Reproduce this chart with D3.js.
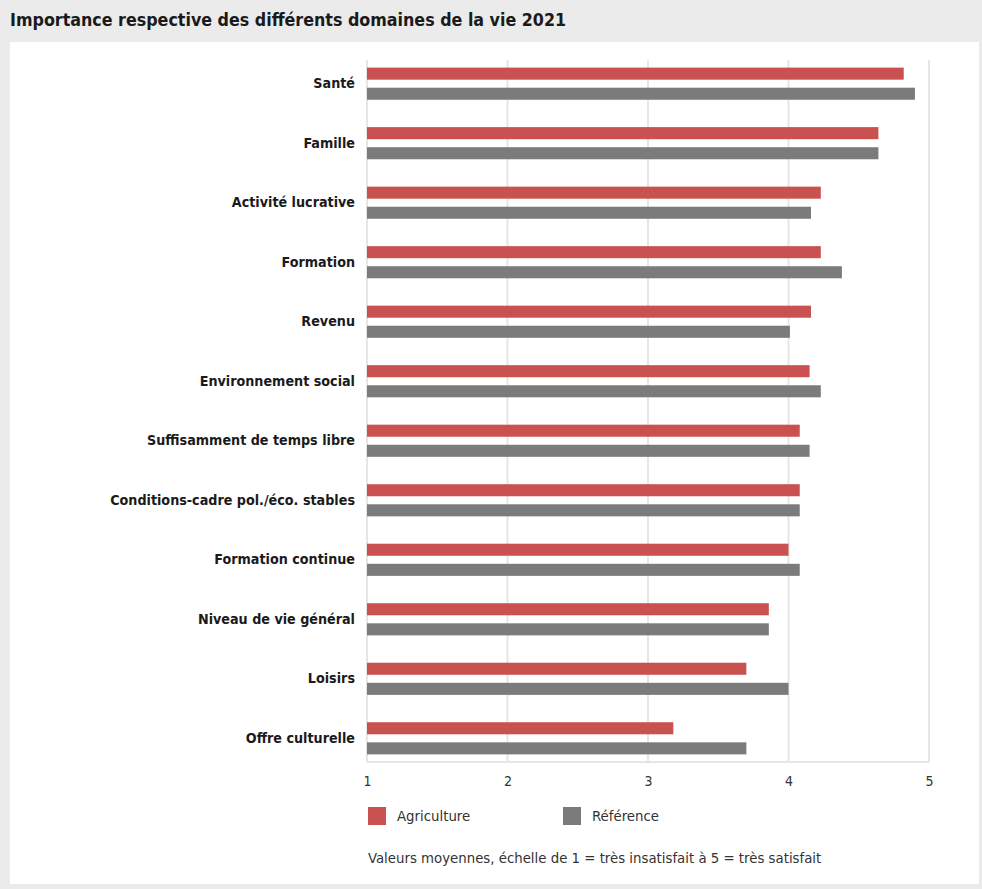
<!DOCTYPE html>
<html>
<head>
<meta charset="utf-8">
<script src="https://cdn.jsdelivr.net/npm/d3@7"></script>
<style>
html,body{margin:0;padding:0;background:#ebebeb;}
svg{display:block;}
</style>
</head>
<body>
<svg id="chart" width="982" height="889"></svg>
<script>
const title = "Importance respective des différents domaines de la vie 2021";
const categories = ["Santé","Famille","Activité lucrative","Formation","Revenu ","Environnement social","Suffisamment de temps libre","Conditions-cadre pol./éco. stables","Formation continue","Niveau de vie général","Loisirs","Offre culturelle"];
const seriesNames = ["Agriculture","Référence"];
const agriculture = [4.82,4.64,4.23,4.23,4.16,4.15,4.08,4.08,4.00,3.86,3.70,3.18];
const reference   = [4.90,4.64,4.16,4.38,4.01,4.23,4.15,4.08,4.08,3.86,4.00,3.70];
const xTicks = [1,2,3,4,5];
const colors = ["#c95150","#7b7b7b"];
const note = "Valeurs moyennes, échelle de 1 = très insatisfait à 5 = très satisfait";

(function(){
const svg = d3.select("#chart");
const font = "'DejaVu Sans Condensed','Liberation Sans Narrow',sans-serif";

svg.append("rect").attr("x",0).attr("y",0).attr("width",982).attr("height",889).attr("fill","#ebebeb");
svg.append("rect").attr("x",10).attr("y",42).attr("width",969).attr("height",842).attr("fill","#ffffff");

svg.append("text").attr("x",10).attr("y",26)
  .attr("font-family",font).attr("font-weight","bold").attr("font-size",17.7)
  .attr("fill","#1a1a1a").text(title);

const pLeft = 367, pRight = 929, pTop = 60, pBottom = 762;
const x = d3.scaleLinear().domain([1,5]).range([pLeft,pRight]);
const y = d3.scaleBand().domain(categories).range([pTop,pBottom]).paddingInner(0.46).paddingOuter(0.128);
const ys = d3.scaleBand().domain(seriesNames).range([0,y.bandwidth()]).paddingInner(0.4);

// grid
svg.append("g").selectAll("line").data(xTicks).join("line")
  .attr("x1",d=>x(d)).attr("x2",d=>x(d)).attr("y1",pTop).attr("y2",pBottom)
  .attr("stroke","#e6e6e6").attr("stroke-width",2);
svg.append("line").attr("x1",pLeft).attr("x2",pRight).attr("y1",pBottom).attr("y2",pBottom)
  .attr("stroke","#e6e6e6").attr("stroke-width",2);

// axis
const xAxis = svg.append("g").attr("transform",`translate(0,${pBottom})`)
  .call(d3.axisBottom(x).tickValues(xTicks).tickFormat(d3.format("d")).tickSize(0).tickPadding(14));
xAxis.select(".domain").remove();
xAxis.selectAll("text").attr("font-family",font).attr("font-size",14).attr("fill","#333");

const yAxis = svg.append("g").attr("transform",`translate(${pLeft-12},0)`)
  .call(d3.axisLeft(y).tickSize(0).tickPadding(0));
yAxis.select(".domain").remove();
yAxis.selectAll("text").attr("font-family",font).attr("font-weight","bold").attr("font-size",14.2).attr("fill","#1a1a1a");

// bars
const data = categories.map((c,i)=>({cat:c, vals:[agriculture[i],reference[i]]}));
const groups = svg.append("g").selectAll("g").data(data).join("g")
  .attr("transform",d=>`translate(0,${y(d.cat)})`);
groups.selectAll("rect").data(d=>d.vals.map((v,j)=>({s:seriesNames[j],v,j}))).join("rect")
  .attr("x",x(1)).attr("y",d=>ys(d.s)).attr("height",ys.bandwidth())
  .attr("width",d=>x(d.v)-x(1)).attr("fill",d=>colors[d.j]);

// legend
const legendX = [368,563];
const lg = svg.append("g").selectAll("g").data(seriesNames).join("g")
  .attr("transform",(d,i)=>`translate(${legendX[i]},807)`);
lg.append("rect").attr("width",18).attr("height",18).attr("fill",(d,i)=>colors[i]);
lg.append("text").attr("x",29).attr("y",14).attr("font-family",font).attr("font-size",14.8)
  .attr("fill","#333").text(d=>d);

svg.append("text").attr("x",368).attr("y",863).attr("font-family",font).attr("font-size",14.8)
  .attr("fill","#333").text(note);
})();
</script>
</body>
</html>
